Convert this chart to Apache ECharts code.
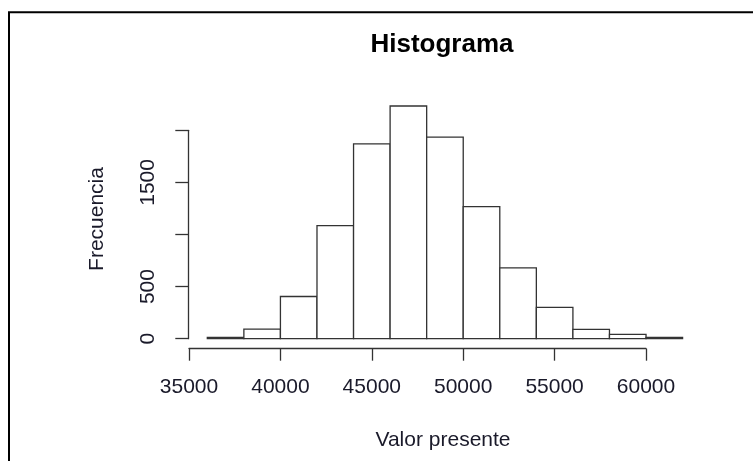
<!DOCTYPE html>
<html>
<head>
<meta charset="utf-8">
<title>Histograma</title>
<script src="https://cdn.jsdelivr.net/npm/echarts@6/dist/echarts.min.js"></script>
<style>
  html, body { margin: 0; padding: 0; background: #fff; }
  #main { width: 753px; height: 461px; }
</style>
</head>
<body>
<div id="main"></div>
<script>
// bin edges (Valor presente) and counts per bin (Frecuencia)
var binStart = [36000, 38000, 40000, 42000, 44000, 46000, 48000, 50000, 52000, 54000, 56000, 58000, 60000];
var binEnd   = [38000, 40000, 42000, 44000, 46000, 48000, 50000, 52000, 54000, 56000, 58000, 60000, 62000];
var counts   = [12, 92, 405, 1085, 1870, 2233, 1935, 1268, 680, 301, 90, 42, 12];

// axis ticks
var xTicks = [35000, 40000, 45000, 50000, 55000, 60000];
var yTicks = [0, 500, 1000, 1500, 2000];
var yTickLabels = ['0', '500', '', '1500', ''];   // R drops the overlapping ones

var titleText = 'Histograma';
var xTitle = 'Valor presente';
var yTitle = 'Frecuencia';

var font = 'Liberation Sans, Arial, sans-serif';
var ink = '#333';
var textInk = '#1a1a2a';

var myChart = echarts.init(document.getElementById('main'));

var histData = [];
for (var i = 0; i < counts.length; i++) {
  histData.push([binStart[i], binEnd[i], counts[i]]);
}

myChart.setOption({
  animation: false,
  backgroundColor: '#fff',
  title: {
    text: titleText,
    left: 437,
    top: 27,
    textAlign: 'center',
    textStyle: { fontFamily: font, fontSize: 26, fontWeight: 'bold', color: '#000' }
  },
  grid: [
    // plot region (bars)
    { left: 188.3, right: 51.4, top: 96.3, bottom: 112.3 },
    // x axis, drawn only over the tick range
    { left: 189, width: 457, bottom: 112.3, height: 1 },
    // y axis, drawn only over the tick range
    { left: 188.3, width: 1, top: 130.3, height: 208.4 }
  ],
  xAxis: [
    { gridIndex: 0, type: 'value', min: 34960, max: 63040, show: false },
    {
      gridIndex: 1, type: 'value', min: xTicks[0], max: xTicks[xTicks.length - 1],
      interval: 5000, position: 'bottom',
      axisLine: { show: true, lineStyle: { color: ink, width: 1.3 } },
      axisTick: { show: true, length: 12, lineStyle: { color: ink, width: 1.3 } },
      axisLabel: {
        margin: 28, fontFamily: font, fontSize: 21, color: textInk,
        formatter: function (v) { return String(v); }
      },
      splitLine: { show: false }
    },
    { gridIndex: 2, type: 'value', show: false }
  ],
  yAxis: [
    { gridIndex: 0, type: 'value', min: -96, max: 2326, show: false },
    { gridIndex: 1, type: 'value', show: false },
    {
      gridIndex: 2, type: 'value', min: yTicks[0], max: yTicks[yTicks.length - 1],
      interval: 500, position: 'left',
      axisLine: { show: true, lineStyle: { color: ink, width: 1.3 } },
      axisTick: { show: true, length: 13, lineStyle: { color: ink, width: 1.3 } },
      axisLabel: {
        rotate: 90, margin: 30, fontFamily: font, fontSize: 21, color: textInk,
        formatter: function (v) {
          var k = yTicks.indexOf(v);
          return k >= 0 ? yTickLabels[k] : '';
        }
      },
      splitLine: { show: false }
    }
  ],
  graphic: [
    {
      type: 'rect',
      shape: { x: 9, y: 12.3, width: 800, height: 500 },
      style: { fill: 'none', stroke: '#000', lineWidth: 2 },
      silent: true
    },
    {
      type: 'text', x: 443, y: 440,
      style: { text: xTitle, font: '21px ' + font, fill: textInk, align: 'center', verticalAlign: 'middle' }
    },
    {
      type: 'text', x: 97, y: 219, rotation: Math.PI / 2,
      style: { text: yTitle, font: '21px ' + font, fill: textInk, align: 'center', verticalAlign: 'middle' }
    }
  ],
  series: [{
    type: 'custom',
    xAxisIndex: 0,
    yAxisIndex: 0,
    data: histData,
    encode: { x: [0, 1], y: 2 },
    renderItem: function (params, api) {
      var p0 = api.coord([api.value(0), api.value(2)]);
      var p1 = api.coord([api.value(1), 0]);
      return {
        type: 'rect',
        shape: { x: p0[0], y: p0[1], width: p1[0] - p0[0], height: p1[1] - p0[1] },
        style: { fill: '#fff', stroke: ink, lineWidth: 1.3 }
      };
    }
  }]
});
</script>
</body>
</html>
